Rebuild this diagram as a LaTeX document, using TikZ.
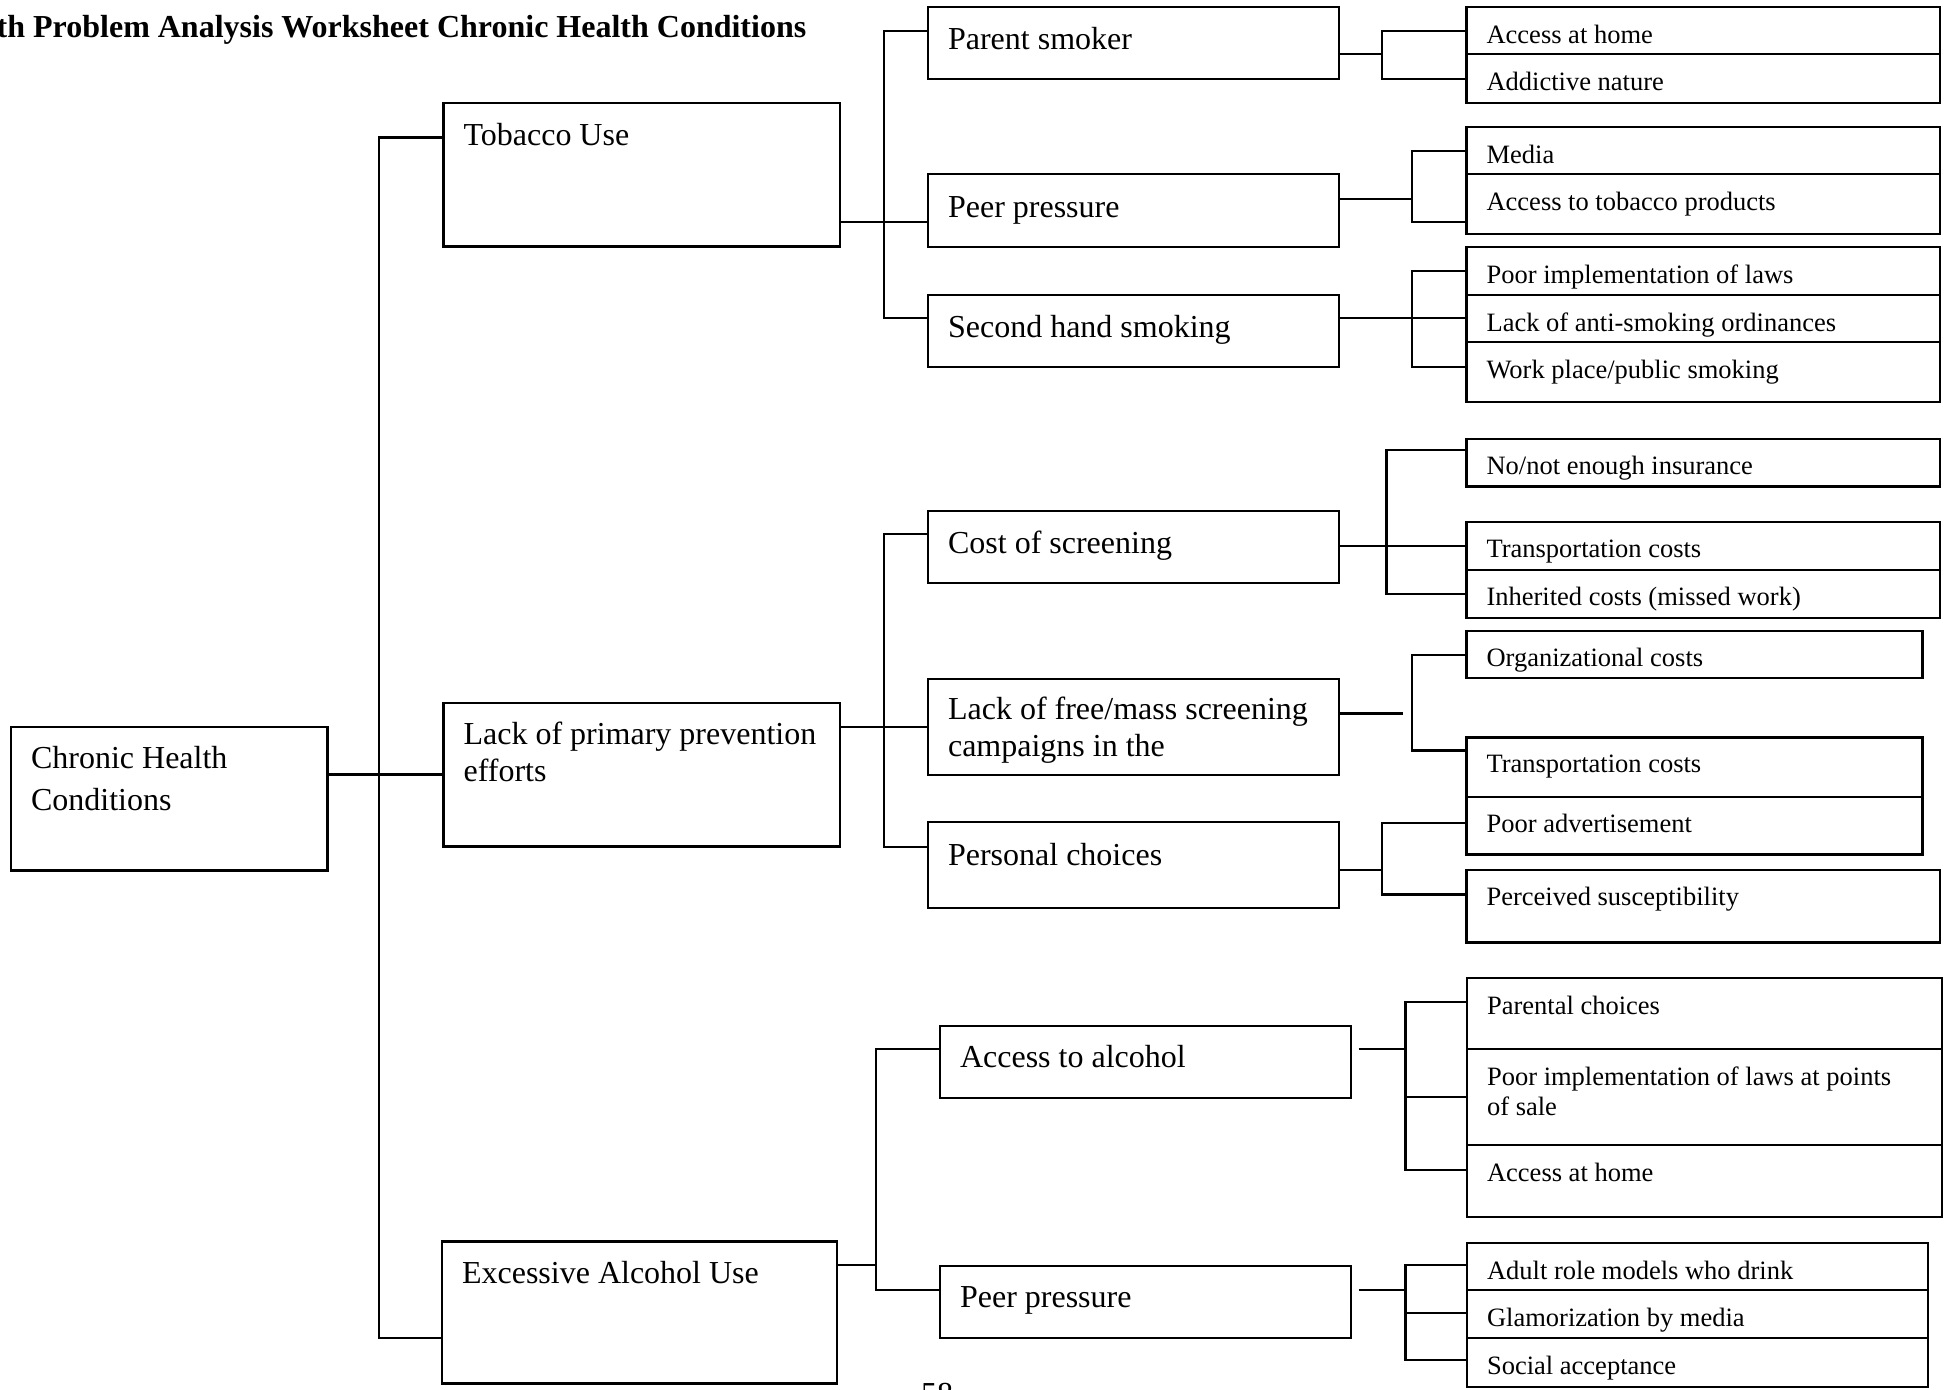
\documentclass[tikz,border=0pt]{standalone}
\usepackage{fontspec}
\setmainfont{Liberation Serif}
\usetikzlibrary{fit}
\tikzset{
  cbox/.style={draw, inner sep=0pt, line width=2.3pt},
  conn/.style={line width=2.3pt},
  ttwo/.style={font=\fontsize{32}{36.5}\selectfont, anchor=base west, inner sep=0pt},
  tthree/.style={font=\fontsize{26.5}{29.5}\selectfont, anchor=base west, inner sep=0pt},
  ttitle/.style={font=\bfseries\fontsize{32}{36}\selectfont, anchor=base east, inner sep=0pt},
}
\newcommand\mkbox[5]{\coordinate (#1-a) at (#2,#3);\coordinate (#1-b) at (#4,#5);\node[cbox, fit=(#1-a)(#1-b)] (#1) {};}
\newcommand\mktext[4]{\node[#2] (#1-t) at ([shift={(21,#3+2.5)}]#1.north west) {#4};}
\begin{document}
\begin{tikzpicture}[x=1pt,y=-1pt]
\useasboundingbox (0,0) rectangle (1948,1389);
\clip (0,0) rectangle (1948,1389);
% title and page number
\node[ttitle] (title) at (806.5,37.5) {th Problem Analysis Worksheet Chronic Health Conditions};
\node[ttwo] (pagenum) at (921,1404) {58};
% root and level 1
\mkbox{root}{11}{727}{327.5}{870.5}
\mktext{root}{ttwo}{40}{\vtop{\baselineskip=42pt\hbox{Chronic Health}\hbox{Conditions}}}
\mkbox{tob}{443.5}{103}{840}{246.5}
\mktext{tob}{ttwo}{41}{Tobacco Use}
\mkbox{lackp}{443.5}{703}{840}{846.5}
\mktext{lackp}{ttwo}{40.5}{\vtop{\baselineskip=36.5pt\hbox{Lack of primary prevention}\hbox{efforts}}}
\mkbox{alc}{442}{1241.5}{837}{1383.5}
\mktext{alc}{ttwo}{40.5}{Excessive Alcohol Use}
% level 2
\mkbox{ps}{928}{6.7}{1339}{78.7}
\mktext{ps}{ttwo}{41.5}{Parent smoker}
\mkbox{pp}{928}{174.3}{1339}{246.7}
\mktext{pp}{ttwo}{41.5}{Peer pressure}
\mkbox{sh}{928}{294.7}{1339}{366.7}
\mktext{sh}{ttwo}{41.5}{Second hand smoking}
\mkbox{cs}{928}{510.7}{1339}{582.7}
\mktext{cs}{ttwo}{41.5}{Cost of screening}
\mkbox{lf}{928}{679}{1339}{774.7}
\mktext{lf}{ttwo}{39.5}{\vtop{\baselineskip=36.7pt\hbox{Lack of free/mass screening}\hbox{campaigns in the}}}
\mkbox{pc}{928}{822.3}{1339}{908.3}
\mktext{pc}{ttwo}{41.5}{Personal choices}
\mkbox{aa}{940}{1025.7}{1351}{1097.7}
\mktext{aa}{ttwo}{40.5}{Access to alcohol}
\mkbox{ppa}{940}{1266}{1351}{1338.3}
\mktext{ppa}{ttwo}{40.5}{Peer pressure}
% level 3
\mkbox{ahome}{1466.5}{7}{1940}{54.3}
\mktext{ahome}{tthree}{35}{Access at home}
\mkbox{addict}{1466.5}{54.3}{1940}{102.7}
\mktext{addict}{tthree}{35}{Addictive nature}
\mkbox{media}{1466.5}{126.7}{1940}{174.3}
\mktext{media}{tthree}{35}{Media}
\mkbox{atob}{1466.5}{174.3}{1940}{234}
\mktext{atob}{tthree}{35}{Access to tobacco products}
\mkbox{pimpl}{1466.5}{246.7}{1940}{294.7}
\mktext{pimpl}{tthree}{35}{Poor implementation of laws}
\mkbox{lanti}{1466.5}{294.7}{1940}{342.3}
\mktext{lanti}{tthree}{35}{Lack of anti-smoking ordinances}
\mkbox{wplace}{1466.5}{342.3}{1940}{401.7}
\mktext{wplace}{tthree}{35}{Work place/public smoking}
\mkbox{noins}{1466.5}{438.9}{1940}{486.4}
\mktext{noins}{tthree}{34}{No/not enough insurance}
\mkbox{trans}{1466.5}{521.9}{1940}{569.7}
\mktext{trans}{tthree}{34}{Transportation costs}
\mkbox{inher}{1466.5}{569.7}{1940}{617.9}
\mktext{inher}{tthree}{34}{Inherited costs (missed work)}
\mkbox{orgc}{1466.5}{630.7}{1922.6}{678.2}
\mktext{orgc}{tthree}{34}{Organizational costs}
\mkbox{transb}{1466.5}{737.4}{1922.6}{796.9}
\mktext{transb}{tthree}{34}{Transportation costs}
\mkbox{padv}{1466.5}{796.9}{1922.6}{854.4}
\mktext{padv}{tthree}{34}{Poor advertisement}
\mkbox{perc}{1466.5}{870.3}{1940}{942.5}
\mktext{perc}{tthree}{34}{Perceived susceptibility}
\mkbox{parc}{1467}{978.3}{1942}{1049.3}
\mktext{parc}{tthree}{35}{Parental choices}
\mkbox{pimps}{1467}{1049.3}{1942}{1145}
\mktext{pimps}{tthree}{35}{\vtop{\baselineskip=29.5pt\hbox{Poor implementation of laws at points}\hbox{of sale}}}
\mkbox{ahomeb}{1467}{1145}{1942}{1217.3}
\mktext{ahomeb}{tthree}{35}{Access at home}
\mkbox{adult}{1467}{1242.7}{1928}{1290}
\mktext{adult}{tthree}{35}{Adult role models who drink}
\mkbox{glam}{1467}{1290}{1928}{1338.3}
\mktext{glam}{tthree}{35}{Glamorization by media}
\mkbox{socacc}{1467}{1338.3}{1928}{1386.7}
\mktext{socacc}{tthree}{35}{Social acceptance}
% connectors: root
\coordinate (r0a) at (379,137.5);
\coordinate (r0b) at (379,1338);
\coordinate (r0c) at (379,774.5);
\draw[conn] (tob.west |- r0a) -- (r0a) -- (r0b) -- (alc.west |- r0b);
\draw[conn] (root.east |- r0c) -- (lackp.west |- r0c);
% tobacco
\coordinate (t1a) at (884.3,30.7);
\coordinate (t1b) at (884.3,318.3);
\coordinate (t1c) at (884.3,222.3);
\draw[conn] (ps.west |- t1a) -- (t1a) -- (t1b) -- (sh.west |- t1b);
\draw[conn] (tob.east |- t1c) -- (pp.west |- t1c);
% lack of primary prevention
\coordinate (p1a) at (884.3,534);
\coordinate (p1b) at (884.3,846.7);
\coordinate (p1c) at (884.3,726.7);
\draw[conn] (cs.west |- p1a) -- (p1a) -- (p1b) -- (pc.west |- p1b);
\draw[conn] (lackp.east |- p1c) -- (lf.west |- p1c);
% alcohol
\coordinate (q1a) at (875.7,1049.3);
\coordinate (q1b) at (875.7,1290);
\coordinate (q1c) at (875.7,1265);
\draw[conn] (aa.west |- q1a) -- (q1a) -- (q1b) -- (ppa.west |- q1b);
\draw[conn] (alc.east |- q1c) -- (q1c);
% parent smoker
\coordinate (u1a) at (1382.3,30.7);
\coordinate (u1b) at (1382.3,78.7);
\coordinate (u1c) at (1382.3,54.3);
\draw[conn] (ahome.west |- u1a) -- (u1a) -- (u1b) -- (addict.west |- u1b);
\draw[conn] (ps.east |- u1c) -- (u1c);
% peer pressure
\coordinate (u2a) at (1412,151);
\coordinate (u2b) at (1412,222.3);
\coordinate (u2c) at (1412,199);
\draw[conn] (media.west |- u2a) -- (u2a) -- (u2b) -- (atob.west |- u2b);
\draw[conn] (pp.east |- u2c) -- (u2c);
% second hand smoking
\coordinate (u3a) at (1412,270.7);
\coordinate (u3b) at (1412,366.7);
\coordinate (u3c) at (1412,318.3);
\draw[conn] (pimpl.west |- u3a) -- (u3a) -- (u3b) -- (wplace.west |- u3b);
\draw[conn] (sh.east |- u3c) -- (lanti.west |- u3c);
% cost of screening
\coordinate (u4a) at (1386.4,450);
\coordinate (u4b) at (1386.4,593.8);
\coordinate (u4c) at (1386.4,546);
\draw[conn] (noins.west |- u4a) -- (u4a) -- (u4b) -- (inher.west |- u4b);
\draw[conn] (cs.east |- u4c) -- (trans.west |- u4c);
% lack of free screening
\coordinate (u5a) at (1412,654.8);
\coordinate (u5b) at (1412,750.5);
\coordinate (u5c) at (1403,713.5);
\draw[conn] (orgc.west |- u5a) -- (u5a) -- (u5b) -- (transb.west |- u5b);
\draw[conn] (lf.east |- u5c) -- (u5c);
% personal choices
\coordinate (u6a) at (1382,822.8);
\coordinate (u6b) at (1382,894.4);
\coordinate (u6c) at (1382,869.9);
\draw[conn] (padv.west |- u6a) -- (u6a) -- (u6b) -- (perc.west |- u6b);
\draw[conn] (pc.east |- u6c) -- (u6c);
% access to alcohol
\coordinate (u7a) at (1405.6,1001.7);
\coordinate (u7b) at (1405.6,1170);
\coordinate (u7c) at (1405.6,1049.3);
\coordinate (u7d) at (1405.6,1097.3);
\draw[conn] (parc.west |- u7a) -- (u7a) -- (u7b) -- (ahomeb.west |- u7b);
\draw[conn] (u7d) -- (pimps.west |- u7d);
\draw[conn, shorten <=6.5pt] (aa.east |- u7c) -- (u7c);
% peer pressure alcohol
\coordinate (u8a) at (1405.6,1265);
\coordinate (u8b) at (1405.6,1360);
\coordinate (u8c) at (1405.6,1290);
\coordinate (u8d) at (1405.6,1313.3);
\draw[conn] (adult.west |- u8a) -- (u8a) -- (u8b) -- (socacc.west |- u8b);
\draw[conn] (u8d) -- (glam.west |- u8d);
\draw[conn, shorten <=6.5pt] (ppa.east |- u8c) -- (u8c);
\end{tikzpicture}
\end{document}
